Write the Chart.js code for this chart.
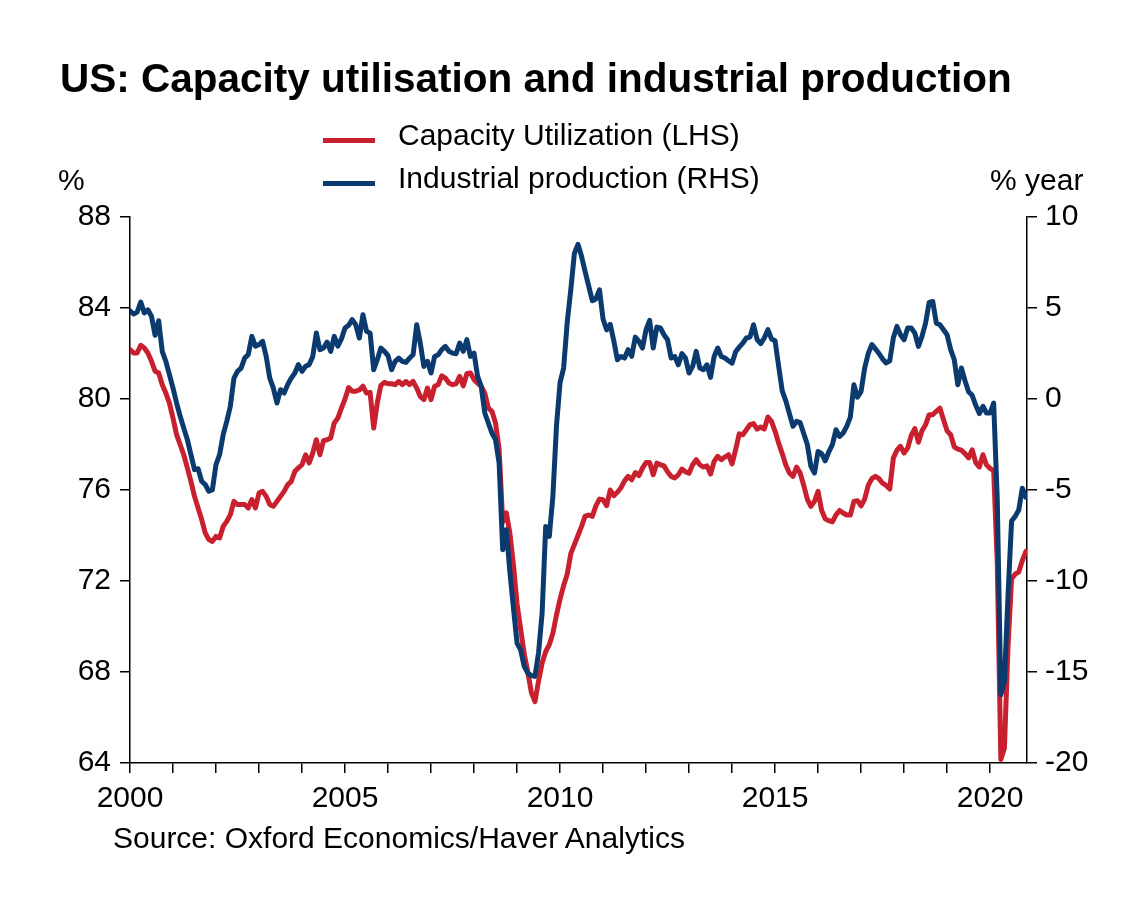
<!DOCTYPE html>
<html>
<head>
<meta charset="utf-8">
<title>US: Capacity utilisation and industrial production</title>
<script src="https://cdn.jsdelivr.net/npm/chart.js@4.4.1/dist/chart.umd.min.js"></script>
<style>
  body { margin: 0; background: #fff; }
  #wrap { position: relative; width: 1147px; height: 914px; overflow: hidden;
          font-family: "Liberation Sans", Arial, sans-serif; color: #000; }
  #wrap canvas { position: absolute; left: 0; top: 0; }
  .txt { position: absolute; white-space: nowrap; font-size: 30px; line-height: 30px; }
  .title { font-size: 40.5px; line-height: 40px; font-weight: bold; left: 60px; top: 58px; }
  .key { position: absolute; left: 323px; width: 52px; height: 5px; }
</style>
</head>
<body>
<div id="wrap">
  <canvas id="cuip" width="1147" height="914"></canvas>
  <div class="txt title">US: Capacity utilisation and industrial production</div>
  <div class="txt" style="left:58px; top:165px">%</div>
  <div class="txt" style="left:990px; top:165px">% year</div>
  <div class="txt" style="left:113px; top:823px">Source: Oxford Economics/Haver Analytics</div>
</div>
<script>
// monthly, Jan 2000 .. Nov 2020 (one row per year)
var capacityUtil = [
  82.17, 82.02, 82.02, 82.36, 82.24, 82.02, 81.66, 81.22, 81.14, 80.63, 80.26, 79.82,
  79.16, 78.43, 77.99, 77.55, 76.97, 76.38, 75.72, 75.21, 74.70, 74.11, 73.82, 73.74,
  73.96, 73.89, 74.40, 74.62, 74.92, 75.50, 75.36, 75.36, 75.36, 75.21, 75.58, 75.21,
  75.87, 75.94, 75.72, 75.36, 75.28, 75.50, 75.72, 75.94, 76.23, 76.38, 76.82, 76.97,
  77.11, 77.55, 77.19, 77.63, 78.21, 77.55, 78.17, 78.21, 78.29, 78.95, 79.16, 79.60,
  80.00, 80.50, 80.34, 80.34, 80.40, 80.56, 80.26, 80.29, 78.72, 79.82, 80.60, 80.73,
  80.67, 80.67, 80.63, 80.77, 80.63, 80.77, 80.63, 80.77, 80.48, 80.11, 79.97, 80.48,
  79.97, 80.56, 80.63, 81.02, 80.92, 80.70, 80.63, 80.67, 80.99, 80.58, 81.11, 81.14,
  80.85, 80.70, 80.56, 80.26, 79.60, 79.46, 78.94, 77.80, 74.60, 75.00, 74.10, 72.70,
  71.00, 69.90, 68.80, 68.00, 67.10, 66.70, 67.60, 68.40, 68.90, 69.20, 69.70, 70.50,
  71.20, 71.80, 72.30, 73.20, 73.60, 74.00, 74.40, 74.85, 74.90, 74.84, 75.30, 75.60,
  75.57, 75.31, 76.00, 75.75, 75.90, 76.10, 76.40, 76.60, 76.45, 76.77, 76.63, 76.96,
  77.21, 77.21, 76.67, 77.18, 77.11, 77.06, 76.80, 76.60, 76.53, 76.67, 76.92, 76.80,
  76.74, 77.11, 77.33, 77.11, 77.01, 77.06, 76.70, 77.26, 77.48, 77.33, 77.45, 77.55,
  77.15, 77.77, 78.47, 78.43, 78.65, 78.87, 78.92, 78.68, 78.77, 78.68, 79.21, 79.02,
  78.58, 78.06, 77.60, 77.10, 76.75, 76.60, 77.01, 76.75, 76.20, 75.60, 75.28, 75.50,
  75.94, 75.10, 74.73, 74.65, 74.60, 74.91, 75.10, 74.99, 74.90, 74.90, 75.50, 75.53,
  75.30, 75.60, 76.20, 76.50, 76.60, 76.50, 76.30, 76.20, 76.04, 77.40, 77.75, 77.92,
  77.62, 77.84, 78.40, 78.70, 78.10, 78.60, 78.87, 79.31, 79.31, 79.46, 79.60, 79.09,
  78.60, 78.43, 77.90, 77.80, 77.75, 77.60, 77.41, 77.77, 77.20, 77.01, 77.55, 77.10,
  76.95, 76.85, 72.80, 64.15, 64.66, 69.10, 72.10, 72.30, 72.40, 72.90, 73.30
];

var industrialProd = [
  4.85, 4.67, 4.78, 5.33, 4.73, 4.90, 4.54, 3.50, 4.30, 2.62, 2.07, 1.34,
  0.60, -0.22, -0.95, -1.60, -2.23, -3.06, -3.88, -3.83, -4.52, -4.70, -5.07, -4.98,
  -3.60, -3.06, -1.96, -1.23, -0.40, 1.15, 1.52, 1.70, 2.25, 2.44, 3.44, 2.90,
  2.99, 3.17, 2.34, 1.15, 0.60, -0.22, 0.51, 0.33, 0.79, 1.15, 1.43, 1.89,
  1.52, 1.80, 1.89, 2.34, 3.63, 2.71, 2.80, 3.13, 2.62, 3.44, 2.90, 3.30,
  3.90, 4.05, 4.36, 4.08, 3.35, 4.63, 3.72, 3.62, 1.61, 2.16, 2.80, 2.62,
  2.38, 1.61, 2.07, 2.25, 2.07, 2.01, 2.25, 2.43, 4.08, 3.07, 1.79, 2.07,
  1.43, 2.34, 2.43, 2.71, 2.89, 2.62, 2.52, 2.49, 3.07, 2.62, 3.26, 2.34,
  2.52, 1.24, 0.69, -0.77, -1.32, -1.87, -2.24, -3.52, -8.28, -7.18, -9.50, -11.50,
  -13.41, -13.78, -14.69, -15.06, -15.20, -15.24, -13.96, -11.76, -7.00, -7.55, -5.35, -1.50,
  0.90, 1.70, 4.20, 6.00, 8.00, 8.50, 7.84, 7.00, 6.20, 5.40, 5.50, 6.00,
  4.40, 3.80, 4.10, 3.20, 2.16, 2.34, 2.25, 2.71, 2.34, 3.40, 3.17, 2.80,
  3.81, 4.32, 2.80, 3.95, 3.90, 3.53, 3.26, 2.25, 2.34, 1.88, 2.49, 2.25,
  1.43, 1.79, 2.62, 1.70, 1.61, 1.88, 1.19, 2.34, 2.80, 2.34, 2.25, 2.10,
  1.97, 2.60, 2.85, 3.07, 3.35, 3.40, 4.08, 3.26, 3.04, 3.35, 3.81, 3.30,
  3.20, 1.80, 0.45, -0.10, -0.80, -1.50, -1.23, -1.30, -1.90, -2.50, -3.70, -4.07,
  -2.88, -3.00, -3.40, -2.90, -2.51, -1.69, -2.06, -1.87, -1.50, -1.00, 0.78, 0.10,
  0.42, 1.70, 2.50, 2.99, 2.75, 2.50, 2.20, 1.98, 2.10, 3.35, 3.99, 3.53,
  3.26, 3.90, 3.90, 3.62, 2.89, 3.44, 4.17, 5.31, 5.36, 4.17, 4.08, 3.81,
  3.53, 2.71, 2.16, 0.78, 1.70, 1.00, 0.40, 0.20, -0.35, -0.80, -0.40, -0.77,
  -0.77, -0.22, -5.50, -16.25, -15.50, -10.80, -6.70, -6.45, -6.10, -4.90, -5.40
];

var seriesNames = ["Capacity Utilization (LHS)", "Industrial production (RHS)"];
var seriesColors = ["#c8202f", "#0b3a6f"];

var startYear = 2000;
var yearLabels = [2000, 2005, 2010, 2015, 2020];
var leftTicks = [64, 68, 72, 76, 80, 84, 88];
var rightTicks = [-20, -15, -10, -5, 0, 5, 10];
var axisEndMonth = 250.3;

// legend (two rows, centred above the plot)
var wrap = document.getElementById("wrap");
var keyTops = [138, 181];
seriesNames.forEach(function (name, i) {
  var k = document.createElement("div");
  k.className = "key";
  k.style.top = keyTops[i] + "px";
  k.style.background = seriesColors[i];
  wrap.appendChild(k);
  var t = document.createElement("div");
  t.className = "txt";
  t.style.left = "398px";
  t.style.top = (keyTops[i] - 18) + "px";
  t.textContent = name;
  wrap.appendChild(t);
});

function toPoints(vals) {
  return vals.map(function (v, i) { return { x: i, y: v }; });
}

Chart.defaults.font.family = '"Liberation Sans", Arial, sans-serif';
Chart.defaults.font.size = 30;
Chart.defaults.color = "#000";

var tickGrid = { drawOnChartArea: false, drawTicks: true, tickLength: 10, color: "#000", lineWidth: 1.5 };
var axisBorder = { display: true, color: "#000", width: 1.5 };

new Chart(document.getElementById("cuip"), {
  type: "line",
  data: {
    datasets: [{
      label: seriesNames[0],
      data: toPoints(capacityUtil),
      borderColor: seriesColors[0],
      yAxisID: "yL",
      order: 2
    }, {
      label: seriesNames[1],
      data: toPoints(industrialProd),
      borderColor: seriesColors[1],
      yAxisID: "yR",
      order: 1
    }]
  },
  options: {
    responsive: false,
    animation: false,
    events: [],
    elements: {
      point: { radius: 0 },
      line: { borderWidth: 5, tension: 0, fill: false, borderJoinStyle: "round", borderCapStyle: "round" }
    },
    layout: { padding: { left: 0, right: 0, top: 217, bottom: 91 } },
    plugins: { legend: { display: false }, tooltip: { enabled: false } },
    scales: {
      x: {
        type: "linear",
        min: 0,
        max: axisEndMonth,
        border: axisBorder,
        grid: tickGrid,
        ticks: {
          stepSize: 12,
          includeBounds: false,
          autoSkip: false,
          maxRotation: 0,
          padding: 8,
          callback: function (v) {
            var yr = startYear + v / 12;
            return yearLabels.indexOf(yr) >= 0 ? String(yr) : "";
          }
        },
        afterFit: function (s) { s.height = 60; }
      },
      yL: {
        position: "left",
        min: leftTicks[0],
        max: leftTicks[leftTicks.length - 1],
        border: axisBorder,
        grid: tickGrid,
        ticks: { stepSize: leftTicks[1] - leftTicks[0], padding: 9, callback: function (v) { return String(v); } },
        afterFit: function (s) { s.width = 130; }
      },
      yR: {
        position: "right",
        min: rightTicks[0],
        max: rightTicks[rightTicks.length - 1],
        border: axisBorder,
        grid: tickGrid,
        ticks: { stepSize: rightTicks[1] - rightTicks[0], padding: 8, callback: function (v) { return String(v); } },
        afterFit: function (s) { s.width = 120; }
      }
    }
  }
});
</script>
</body>
</html>
